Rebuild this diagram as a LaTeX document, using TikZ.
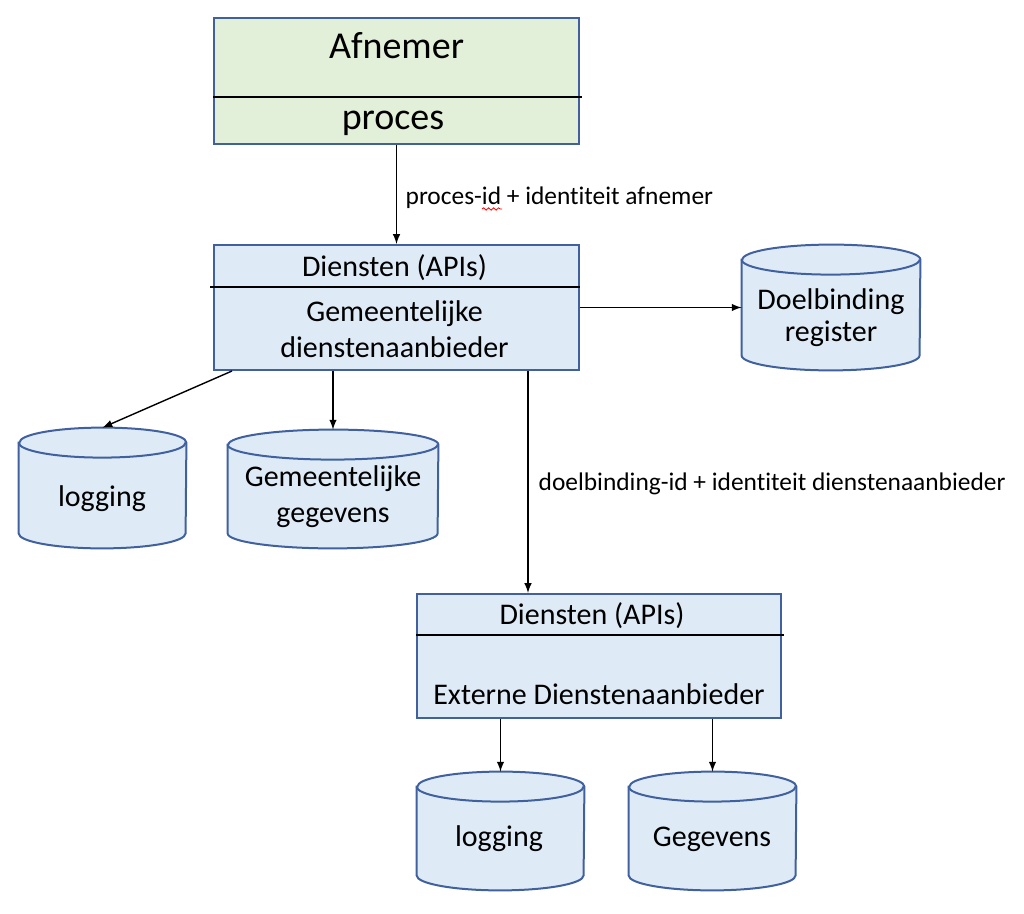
\documentclass[tikz,border=0pt]{standalone}
\usepackage{fontspec}
\setmainfont{Carlito}[RawFeature={-liga,-calt,-clig,-dlig}]
\usetikzlibrary{decorations.pathmorphing}
\definecolor{rand}{HTML}{41619E}
\definecolor{afngroen}{HTML}{E2F0D9}
\definecolor{dienstblauw}{HTML}{DEEBF7}

% database vat: name, position, half width, height
\newcommand{\dbvat}[4]{%
  \node[dbvak,minimum width=2*#3,minimum height=#4] (#1) at #2 {};
  \draw[dbrand,fill=dienstblauw] ([yshift=-7.5pt]#1.north west) -- ([yshift=7.5pt]#1.south west)
    arc[start angle=180,end angle=360,x radius=#3,y radius=7.5pt]
    -- ([yshift=-7.5pt]#1.north east)
    arc[start angle=0,end angle=180,x radius=#3,y radius=7.5pt] -- cycle;
  \draw[dbrand] ([yshift=-7.5pt]#1.north west)
    arc[start angle=180,end angle=360,x radius=#3,y radius=7.5pt];
}

\begin{document}
\begin{tikzpicture}[
      x=0.5pt,y=-0.5pt,
      >=latex,
      box/.style={
        draw=rand,line width=1pt,rectangle,inner sep=0pt,fill=dienstblauw
      },
      dbvak/.style={rectangle,inner sep=0pt},
      dbrand/.style={draw=rand,line width=1pt},
      groot/.style={anchor=base,font=\fontsize{19}{23}\selectfont},
      tekst/.style={anchor=base,font=\fontsize{15}{18}\selectfont},
      lbl/.style={anchor=base west,inner sep=0pt,font=\fontsize{12.7}{15}\selectfont},
      pijl/.style={->,line width=0.7pt},
      deler/.style={line width=0.8pt},
    ]
    \useasboundingbox (0,0) rectangle (1024,914);
    % boxes
    \node[box,fill=afngroen,minimum width=182.5pt,minimum height=63pt] (afn) at (396.5,81) {};
    \node[box,minimum width=182.5pt,minimum height=62.5pt] (dp) at (396.5,307.5) {};
    \node[box,minimum width=182pt,minimum height=62pt] (ext) at (599,656) {};
    % databases
    \dbvat{dbr}{(831,307.5)}{44.5pt}{62.5pt}
    \dbvat{log1}{(102.5,488)}{41.75pt}{60pt}
    \dbvat{gem}{(333,489)}{52.5pt}{59pt}
    \dbvat{log2}{(500.5,831)}{41.75pt}{59pt}
    \dbvat{geg}{(712.5,831)}{41.75pt}{59pt}
    % dividers
    \draw[deler] (afn.west |- 0,97) -- ([xshift=1pt]afn.east |- 0,97);
    \draw[deler] ([xshift=-1.5pt]dp.west |- 0,287) -- (dp.east |- 0,287);
    \draw[deler] (ext.west |- 0,635) -- ([xshift=1pt]ext.east |- 0,635);
    % texts
    \node[groot] (afnt) at (396.5,59) {Afnemer};
    \node[groot] (proct) at (393,130) {proces};
    \node[tekst] (dp1) at (394.5,277) {Diensten (APIs)};
    \node[tekst] (dp2) at (394.5,322) {Gemeentelijke};
    \node[tekst] (dp3) at (394.5,358) {dienstenaanbieder};
    \node[tekst] (ext1) at (592,625) {Diensten (APIs)};
    \node[tekst] (ext2) at (599,705) {Externe Dienstenaanbieder};
    \node[tekst] (dbr1) at (831,310) {Doelbinding};
    \node[tekst] (dbr2) at (831,342) {register};
    \node[tekst] (log1t) at (102,507) {logging};
    \node[tekst] (gem1) at (333,487) {Gemeentelijke};
    \node[tekst] (gem2) at (333,523) {gegevens};
    \node[tekst] (log2t) at (499,847) {logging};
    \node[tekst] (gegt) at (712,847) {Gegevens};
    % arrows
    \draw[pijl] (afn.south) -- (dp.north)
      node[lbl] (l1) at (405,205) {proces-id + identiteit afnemer};
    \draw[red,line width=0.4pt,decorate,decoration={snake,amplitude=0.6pt,segment length=2.5pt}] (482,209) -- (502,209);
    \draw[pijl] (dp.east) -- (dbr.west);
    \draw[pijl] ([xshift=9.5pt]dp.south west) -- (log1.north);
    \draw[pijl] (dp.south -| gem.north) -- (gem.north);
    \draw[pijl] ([xshift=65.75pt]dp.south) -- ([xshift=65.75pt]dp.south |- ext.north)
      node[lbl] (l2) at (538,491) {doelbinding-id + identiteit dienstenaanbieder};
    \draw[pijl] (ext.south -| log2.north) -- (log2.north);
    \draw[pijl] (ext.south -| geg.north) -- (geg.north);
  \end{tikzpicture}
\end{document}
